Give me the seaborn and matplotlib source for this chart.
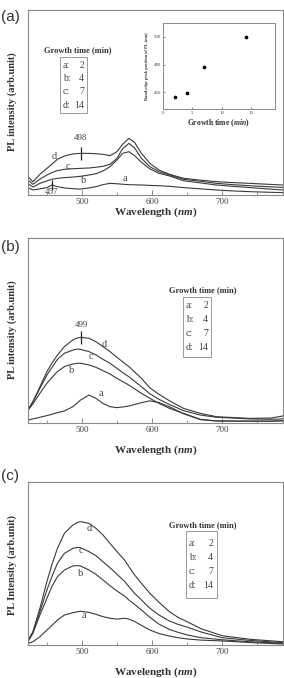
import numpy as np
import matplotlib
matplotlib.use("Agg")
import matplotlib.pyplot as plt
import seaborn as sns
from matplotlib.patches import Rectangle

# ---------------- data ----------------
wl_A = [423, 430, 440, 450, 457, 465, 475, 487, 498, 510, 520, 530, 540, 550,
        558, 567, 575, 585, 597, 610, 625, 645, 670, 692, 715, 740, 765, 787]
A_a = [0.040, 0.027, 0.033, 0.040, 0.054, 0.045, 0.038, 0.034, 0.032, 0.038, 0.045, 0.056, 0.063, 0.061,
       0.058, 0.056, 0.055, 0.054, 0.052, 0.050, 0.047, 0.040, 0.033, 0.027, 0.022, 0.018, 0.015, 0.013]
A_b = [0.063, 0.043, 0.063, 0.076, 0.085, 0.090, 0.094, 0.097, 0.101, 0.108, 0.115, 0.130, 0.153, 0.189,
       0.225, 0.234, 0.213, 0.177, 0.141, 0.117, 0.103, 0.077, 0.065, 0.054, 0.047, 0.040, 0.033, 0.027]
A_c = [0.081, 0.058, 0.086, 0.108, 0.121, 0.132, 0.139, 0.142, 0.144, 0.146, 0.150, 0.155, 0.166, 0.198,
       0.250, 0.279, 0.255, 0.198, 0.153, 0.126, 0.108, 0.085, 0.074, 0.063, 0.056, 0.050, 0.045, 0.041]
A_d = [0.099, 0.072, 0.112, 0.144, 0.166, 0.193, 0.211, 0.222, 0.225, 0.225, 0.223, 0.220, 0.213, 0.234,
       0.274, 0.306, 0.285, 0.225, 0.171, 0.135, 0.112, 0.090, 0.080, 0.072, 0.067, 0.063, 0.058, 0.054]

wl_B = [423, 430, 440, 450, 457, 465, 475, 487, 494, 498, 510, 520, 530, 540, 550,
        561, 567, 585, 597, 610, 625, 645, 669, 692, 740, 770, 787]
B_a = [0.016, 0.022, 0.031, 0.040, 0.047, 0.056, 0.065, 0.088, 0.110, 0.124, 0.151, 0.133, 0.106, 0.088, 0.083,
       0.088, 0.092, 0.110, 0.120, 0.110, 0.088, 0.050, 0.018, 0.011, 0.010, 0.010, 0.012]
B_b = [0.070, 0.103, 0.161, 0.215, 0.245, 0.278, 0.305, 0.319, 0.323, 0.323, 0.314, 0.301, 0.283, 0.265, 0.241,
       0.218, 0.205, 0.160, 0.133, 0.106, 0.079, 0.052, 0.020, 0.011, 0.010, 0.010, 0.012]
B_c = [0.070, 0.115, 0.187, 0.259, 0.299, 0.344, 0.377, 0.394, 0.400, 0.398, 0.386, 0.368, 0.344, 0.323, 0.295,
       0.265, 0.250, 0.196, 0.158, 0.128, 0.100, 0.067, 0.043, 0.031, 0.022, 0.020, 0.022]
B_d = [0.070, 0.115, 0.196, 0.277, 0.323, 0.367, 0.413, 0.449, 0.460, 0.463, 0.458, 0.439, 0.413, 0.386, 0.355,
       0.322, 0.305, 0.241, 0.190, 0.155, 0.120, 0.079, 0.052, 0.034, 0.025, 0.027, 0.038]

wl_C = [423, 430, 440, 450, 457, 465, 475, 487, 494, 498, 510, 520, 530, 540, 550,
        561, 567, 575, 585, 597, 610, 625, 637, 650, 670, 700, 740, 787]
C_a = [0.010, 0.020, 0.051, 0.092, 0.119, 0.153, 0.184, 0.198, 0.204, 0.207, 0.200, 0.188, 0.174, 0.164, 0.159,
       0.164, 0.159, 0.145, 0.120, 0.092, 0.070, 0.055, 0.045, 0.037, 0.030, 0.025, 0.015, 0.006]
C_b = [0.020, 0.072, 0.184, 0.286, 0.358, 0.419, 0.460, 0.485, 0.487, 0.485, 0.460, 0.434, 0.399, 0.364, 0.331,
       0.300, 0.276, 0.250, 0.215, 0.170, 0.128, 0.095, 0.078, 0.062, 0.045, 0.032, 0.020, 0.010]
C_c = [0.025, 0.078, 0.204, 0.337, 0.419, 0.501, 0.562, 0.593, 0.599, 0.597, 0.573, 0.548, 0.511, 0.474, 0.434,
       0.390, 0.358, 0.318, 0.276, 0.225, 0.184, 0.147, 0.127, 0.110, 0.080, 0.045, 0.028, 0.014]
C_d = [0.025, 0.082, 0.225, 0.389, 0.491, 0.593, 0.685, 0.736, 0.752, 0.757, 0.746, 0.716, 0.675, 0.624, 0.573,
       0.520, 0.481, 0.430, 0.378, 0.317, 0.262, 0.204, 0.170, 0.143, 0.100, 0.057, 0.035, 0.020]

growth_letters = ["a:", "b:", "c:", "d:"]
growth_times = [2, 4, 7, 14]

inset_time = [2, 4, 7, 14]
inset_peak = [457, 459.5, 478, 500]

x_major = [500, 600, 700]
x_minor = [450, 550, 650, 750]

# ---------------- style ----------------
sns.set_theme(style="white")
plt.rcParams['font.family'] = ['Liberation Serif', 'DejaVu Serif']
plt.rcParams['mathtext.fontset'] = 'custom'
plt.rcParams['mathtext.it'] = 'Liberation Serif:italic:bold'
plt.rcParams['mathtext.rm'] = 'Liberation Serif:bold'

W, H = 284, 678
fig = plt.figure(figsize=(W / 100, H / 100), dpi=100)
LC = '#3a3a3a'
SC = '#8a8a8a'
TC = '#444444'


def box(l, t, r, b):
    return [l / W, 1 - b / H, (r - l) / W, (b - t) / H]


def ftext(x, y, s, **kw):
    fig.text(x / W, 1 - y / H, s, **kw)


def frect(l, t, r, b):
    fig.add_artist(Rectangle((l / W, 1 - b / H), (r - l) / W, (b - t) / H,
                             transform=fig.transFigure, fill=False,
                             edgecolor='#999999', lw=0.7))


def style_axes(ax):
    ax.set_xlim(423, 787)
    ax.set_ylim(0, 1)
    ax.set_xticks(x_major)
    ax.set_xticks(x_minor, minor=True)
    ax.set_yticks([])
    ax.tick_params(axis='x', which='major', direction='in', length=3.5, width=0.6,
                   color='#777777', labelsize=6.5, pad=2.5, labelcolor=TC, bottom=True)
    ax.tick_params(axis='x', which='minor', direction='in', length=2, width=0.5,
                   color='#777777', bottom=True)
    ax.set_xlabel("")
    ax.set_ylabel("")
    for s in ax.spines.values():
        s.set_color(SC)
        s.set_linewidth(0.8)


panels = [
    (box(28, 10, 283, 195), wl_A, [A_a, A_b, A_c, A_d]),
    (box(28, 238, 283, 423), wl_B, [B_a, B_b, B_c, B_d]),
    (box(28, 482, 283, 645), wl_C, [C_a, C_b, C_c, C_d]),
]
axes = []
for pos, wl, curves in panels:
    ax = fig.add_axes(pos)
    for c in curves:
        sns.lineplot(x=wl, y=c, ax=ax, color=LC, lw=0.8, estimator=None, sort=False)
    style_axes(ax)
    axes.append(ax)

axA, axB, axC = axes

# curve labels
lab_kw = dict(fontsize=7.5, color=TC, ha='center', va='center')
for ax, pts in [
    (axA, [("d", 461, 0.207), ("c", 480, 0.153), ("b", 503, 0.081), ("a", 561, 0.09)]),
    (axB, [("d", 532, 0.427), ("c", 513, 0.358), ("b", 485, 0.283), ("a", 527, 0.162)]),
    (axC, [("d", 511, 0.716), ("c", 499, 0.577), ("b", 498, 0.436), ("a", 503, 0.184)]),
]:
    for s, x, y in pts:
        ax.text(x, y, s, **lab_kw)

# peak markers
def peak_mark(ax, wl, curve, x0, half, label, ly):
    yv = np.interp(x0, wl, curve)
    ax.vlines(x0, yv - half, yv + half, color='#222222', lw=0.9)
    ax.text(x0, ly, label, fontsize=6.5, color=TC, ha='center', va='center')

peak_mark(axA, wl_A, A_d, 498, 0.036, "498", 0.31)
peak_mark(axA, wl_A, A_a, 457, 0.025, "457", 0.018)
peak_mark(axB, wl_B, B_d, 499, 0.036, "499", 0.53)

# axis labels
xl = "Wavelength ($\\it{nm}$)"
for y in (212, 450, 672):
    ftext(155.5, y, xl, fontsize=8, fontweight='bold', color='#333333', ha='center', va='center')
ftext(12, 102, "PL intensity (arb.unit)", fontsize=7.5, fontweight='bold', color='#333333',
      rotation=90, ha='center', va='center')
ftext(12, 330, "PL intensity (arb.unit)", fontsize=7.5, fontweight='bold', color='#333333',
      rotation=90, ha='center', va='center')
ftext(12, 565, "PL Intensity (arb.unit)", fontsize=7.5, fontweight='bold', color='#333333',
      rotation=90, ha='center', va='center')

# panel letters
for s, y in [("(a)", 17), ("(b)", 247), ("(c)", 476)]:
    ftext(0.5, y, s, fontsize=11, family='Liberation Sans', color='#333333', ha='left', va='center')

# legends
def legend_box(title_xy, rect, lx, nx, rows):
    ftext(title_xy[0], title_xy[1], "Growth time (min)", fontsize=6, fontweight='bold',
          color='#333333', ha='center', va='center')
    frect(*rect)
    for L, n, y in zip(growth_letters, growth_times, rows):
        ftext(lx, y, L, fontsize=7, color=TC, ha='left', va='center')
        ftext(nx, y, str(n), fontsize=7, color=TC, ha='right', va='center')

legend_box((78, 50), (60, 57, 87, 113), 63, 84, [65, 78.5, 92, 105.5])
legend_box((203, 290), (183, 297, 211, 357), 186, 208, [306, 320, 334, 348])
legend_box((203, 525), (186, 531, 217, 598), 189, 213, [544, 558, 572, 586])

# inset
axI = fig.add_axes(box(163, 23, 275, 109))
sns.scatterplot(x=inset_time, y=inset_peak, ax=axI, color='black', s=7, edgecolor='black', linewidth=0)
axI.set_xlim(0, 19)
axI.set_ylim(448, 510)
axI.set_xticks([0, 5, 10, 15])
axI.set_yticks([460, 480, 500])
axI.tick_params(direction='in', length=1.5, width=0.4, labelsize=3.5, pad=1.5,
                labelcolor=TC, bottom=True, left=True)
axI.set_xlabel("")
axI.set_ylabel("")
for s in axI.spines.values():
    s.set_color(SC)
    s.set_linewidth(0.7)
ftext(218, 123, "Growth time ($\\it{min}$)", fontsize=5.5, fontweight='bold', color='#333333',
      ha='center', va='center')
ftext(147, 66, "Band edge peak position of PL (nm)", fontsize=3.2, fontweight='bold', color='#333333',
      rotation=90, ha='center', va='center')

fig.savefig("out.png", dpi=100)
